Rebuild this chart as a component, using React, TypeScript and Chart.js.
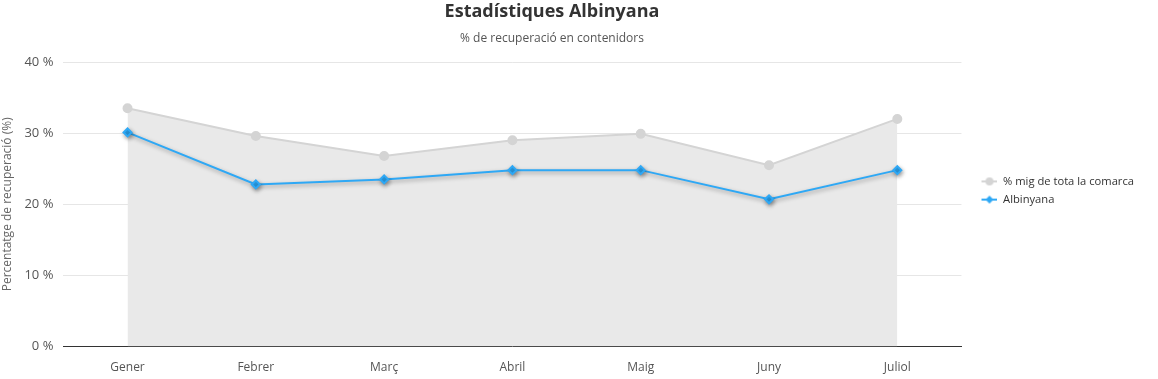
import React, { useEffect, useRef } from "react";
import { Chart, registerables } from "chart.js";

Chart.register(...registerables);

const categories = ["Gener", "Febrer", "Març", "Abril", "Maig", "Juny", "Juliol"];
const comarcaValues = [33.5, 29.6, 26.8, 29.0, 29.9, 25.5, 32.0];
const albinyanaValues = [30.1, 22.8, 23.5, 24.8, 24.8, 20.7, 24.8];
const yTicks = [0, 10, 20, 30, 40];

const FONT = "'Open Sans', 'Noto Sans', sans-serif";
const GRAY = "#d4d4d4";
const BLUE = "#2ea8f5";
const ICON_W = 29;

function makeIcon(kind: "circle" | "diamond", color: string): HTMLCanvasElement {
  const c = document.createElement("canvas");
  c.width = ICON_W;
  c.height = 10;
  const ctx = c.getContext("2d")!;
  ctx.strokeStyle = color;
  ctx.fillStyle = color;
  ctx.lineWidth = 2;
  const x0 = ICON_W - 16;
  const cx = x0 + 8;
  ctx.beginPath();
  ctx.moveTo(x0, 5);
  ctx.lineTo(ICON_W, 5);
  ctx.stroke();
  ctx.beginPath();
  if (kind === "circle") {
    ctx.arc(cx, 5, 4, 0, Math.PI * 2);
  } else {
    ctx.moveTo(cx, 1);
    ctx.lineTo(cx + 4, 5);
    ctx.lineTo(cx, 9);
    ctx.lineTo(cx - 4, 5);
    ctx.closePath();
  }
  ctx.fill();
  return c;
}

const shadowPlugin = {
  id: "lineShadow",
  beforeDatasetDraw(chart: any, args: any) {
    if (args.index === 1) {
      const ctx = chart.ctx;
      ctx.save();
      ctx.shadowColor = "rgba(0,0,0,0.35)";
      ctx.shadowBlur = 4;
      ctx.shadowOffsetX = 1;
      ctx.shadowOffsetY = 2;
    }
  },
  afterDatasetDraw(chart: any, args: any) {
    if (args.index === 1) {
      chart.ctx.restore();
    }
  },
};

// Nudge the title block and legend box to where the reference places them.
const boxShiftPlugin = {
  id: "boxShift",
  afterLayout(chart: any) {
    chart.boxes.forEach((b: any) => {
      if (!b.options) return;
      if (b === chart.legend) {
        b.top -= 4;
        b.bottom -= 4;
      } else if (b.options.position === "top" && typeof b.right === "number") {
        b.right -= 40;
      }
    });
  },
};

export default function App() {
  const ref = useRef<HTMLCanvasElement>(null);
  useEffect(() => {
    document.body.style.margin = "0";
    const icons = [makeIcon("circle", GRAY), makeIcon("diamond", BLUE)];
    const chart = new Chart(ref.current!, {
      type: "line",
      data: {
        labels: categories,
        datasets: [
          {
            label: "% mig de tota la comarca",
            data: comarcaValues,
            borderColor: GRAY,
            backgroundColor: "rgba(233,233,233,1)",
            pointBackgroundColor: GRAY,
            pointBorderColor: GRAY,
            pointRadius: 4,
            borderWidth: 2,
            fill: "origin",
            tension: 0,
            order: 1,
          },
          {
            label: "Albinyana",
            data: albinyanaValues,
            borderColor: BLUE,
            backgroundColor: BLUE,
            pointBackgroundColor: BLUE,
            pointBorderColor: BLUE,
            pointStyle: "rectRot",
            pointRadius: 4,
            borderWidth: 2,
            fill: false,
            tension: 0,
            order: 0,
          },
        ],
      },
      options: {
        animation: false,
        responsive: false,
        maintainAspectRatio: false,
        layout: { padding: { left: 0, right: 14, top: 0, bottom: -10 } },
        plugins: {
          title: {
            display: true,
            text: "Estadístiques Albinyana",
            color: "#333333",
            font: { family: FONT, size: 18, weight: "bold" },
            padding: { top: 1, bottom: 9 },
          },
          subtitle: {
            display: true,
            text: "% de recuperació en contenidors",
            color: "#555555",
            font: { family: FONT, size: 12 },
            padding: { top: 0, bottom: 16 },
          },
          legend: {
            position: "right",
            labels: {
              usePointStyle: true,
              pointStyleWidth: ICON_W,
              color: "#333333",
              font: { family: FONT, size: 11.2 },
              padding: 7,
              generateLabels: (ch: any) =>
                ch.data.datasets.map((ds: any, i: number) => ({
                  text: ds.label,
                  pointStyle: icons[i],
                  fillStyle: ds.borderColor,
                  strokeStyle: ds.borderColor,
                  lineWidth: 0,
                  hidden: false,
                  datasetIndex: i,
                  fontColor: "#333333",
                })),
            },
          },
          tooltip: { enabled: false },
        },
        scales: {
          x: {
            offset: true,
            grid: { display: false, drawTicks: false },
            border: { display: true, color: "#333333", width: 1 },
            ticks: { color: "#555555", font: { family: FONT, size: 12 }, padding: 14 },
          },
          y: {
            min: 0,
            max: 40,
            afterBuildTicks: (axis: any) => {
              axis.ticks = yTicks.map((v) => ({ value: v }));
            },
            grid: { color: "#e6e6e6", drawTicks: false },
            border: { display: false },
            ticks: {
              color: "#555555",
              font: { family: FONT, size: 13 },
              padding: 10,
              callback: (v: any) => `${v}\u00a0%`,
            },
            title: {
              display: true,
              text: "Percentatge de recuperació (%)",
              color: "#666666",
              font: { family: FONT, size: 12 },
              padding: { top: 0, bottom: 0 },
            },
          },
        },
      },
      plugins: [shadowPlugin, boxShiftPlugin],
    });
    return () => chart.destroy();
  }, []);
  return <canvas ref={ref} width={1158} height={379} style={{ display: "block" }} />;
}
